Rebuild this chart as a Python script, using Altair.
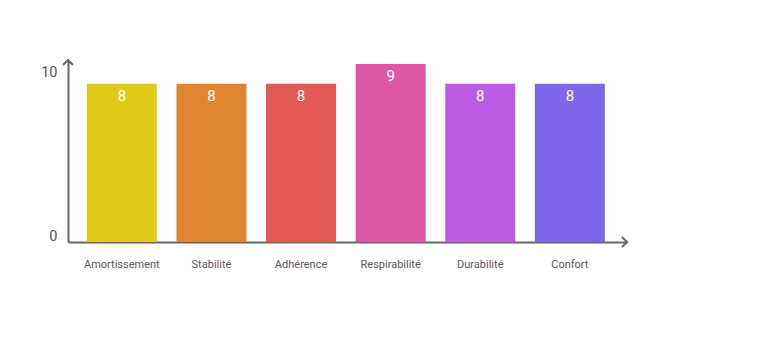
import altair as alt
import pandas as pd

categories = ["Amortissement", "Stabilité", "Adhérence", "Respirabilité", "Durabilité", "Confort"]
values = [8, 8, 8, 9, 8, 8]
colors = ["#DFCB17", "#DF8431", "#E35A55", "#DC58A7", "#BA5DE3", "#7F67EA"]
y_tick_labels = ["0", "10"]

df = pd.DataFrame({"cat": categories, "val": values, "color": colors})

W, H = 559, 182
ymax = 9.2

x_enc = alt.X("cat:N", sort=categories,
              scale=alt.Scale(paddingInner=0.219, paddingOuter=0.229, align=0.46),
              axis=alt.Axis(title=None, labelAngle=0, domain=True, domainColor="#666666",
                            domainWidth=2, ticks=False, labelPadding=16, labelFontSize=11,
                            labelFont="Roboto", labelColor="#5f5656"))
y_scale = alt.Scale(domain=[0, ymax], nice=False)

bars = alt.Chart(df).mark_bar().encode(
    x=x_enc,
    y=alt.Y("val:Q", scale=y_scale,
            axis=alt.Axis(title=None, values=[0, 8.29], grid=False, ticks=False,
                          domain=True, domainColor="#666666", domainWidth=2,
                          labelExpr="datum.value == 0 ? '%s' : '%s'" % (y_tick_labels[0], y_tick_labels[1]),
                          labelOffset=-6, labelPadding=11, labelFontSize=14.5,
                          labelFont="Roboto", labelColor="#555555")),
    color=alt.Color("color:N", scale=None),
)

text = alt.Chart(df).mark_text(baseline="middle", dy=12, color="white",
                               fontSize=15, font="Roboto", fontWeight=400).encode(
    x=alt.X("cat:N", sort=categories),
    y=alt.Y("val:Q", scale=y_scale),
    text=alt.Text("val:Q"),
)

arrow_df = pd.DataFrame({"k": [0]})
up_arrow = alt.Chart(arrow_df).mark_point(
    shape="M-1,1 L0,0 L1,1", filled=False, stroke="#666666", strokeWidth=2, size=100, opacity=1
).encode(x=alt.value(0), y=alt.value(0))
right_arrow = alt.Chart(arrow_df).mark_point(
    shape="M-1,-1 L0,0 L-1,1", filled=False, stroke="#666666", strokeWidth=2, size=100, opacity=1
).encode(x=alt.value(W), y=alt.value(H))

chart = alt.layer(bars, text, up_arrow, right_arrow).properties(
    width=W, height=H,
    autosize=alt.AutoSizeParams(type="none"),
    padding={"left": 68, "top": 60, "right": 768 - 68 - W, "bottom": 352 - 60 - H},
).configure(background="white", view=alt.ViewConfig(stroke=None, strokeWidth=0))

chart.save("out.html", embed_options={"renderer": "svg", "actions": False})
